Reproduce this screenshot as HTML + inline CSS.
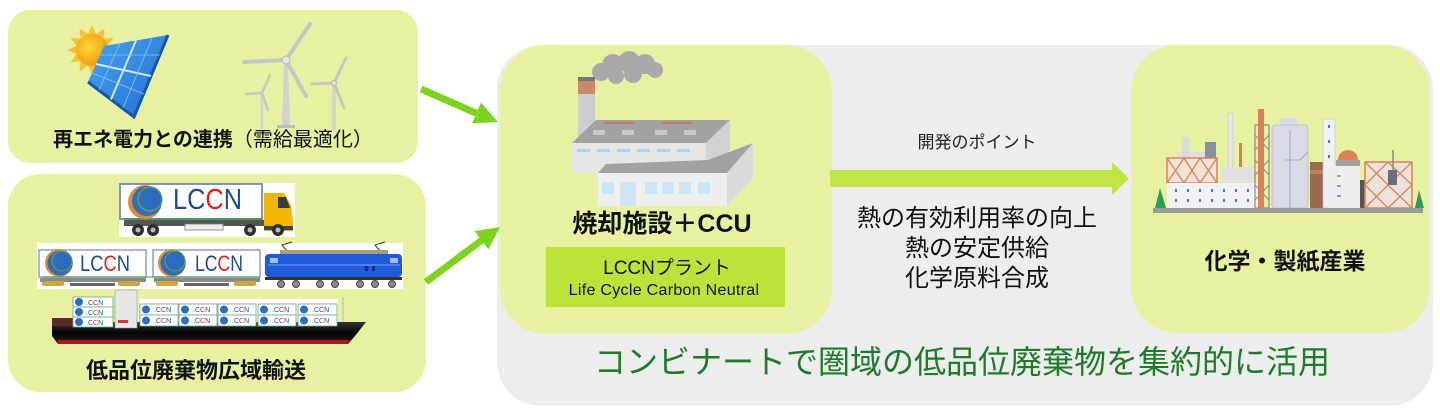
<!DOCTYPE html>
<html><head><meta charset="utf-8">
<style>
html,body{margin:0;padding:0;background:#fff;}
body{width:1440px;height:416px;overflow:hidden;position:relative;}
svg{position:absolute;left:0;top:0;}
text{font-family:"Liberation Sans","Noto Sans CJK JP",sans-serif;}
</style></head>
<body>
<svg width="1440" height="416" viewBox="0 0 1440 416" xmlns="http://www.w3.org/2000/svg">
<defs>
<radialGradient id="sunG" cx="0.4" cy="0.4" r="0.6"><stop offset="0" stop-color="#fdd835"/><stop offset="1" stop-color="#f39c12"/></radialGradient>
<linearGradient id="panelG" x1="0" y1="0" x2="1" y2="1"><stop offset="0" stop-color="#4aa3f0"/><stop offset="1" stop-color="#1f6fd0"/></linearGradient>
<linearGradient id="hullG" x1="0" y1="0" x2="0" y2="1"><stop offset="0" stop-color="#333"/><stop offset="0.5" stop-color="#050505"/><stop offset="1" stop-color="#222"/></linearGradient>
</defs>

<!-- backgrounds -->
<rect x="8" y="10" width="410" height="153" rx="22" fill="#e8f1a1"/>
<rect x="8" y="174" width="418" height="218" rx="32" fill="#e8f1a1"/>
<rect x="497" y="45" width="936" height="361" rx="44" fill="#ededed"/>
<rect x="500" y="45" width="332" height="289" rx="46" fill="#e8f1a1"/>
<rect x="1131" y="45" width="299" height="288" rx="46" fill="#e8f1a1"/>
<rect x="546" y="247" width="239" height="60" fill="#bde33b"/>

<!-- arrows -->
<line x1="421" y1="89" x2="478" y2="114" stroke="#7ed321" stroke-width="7"/>
<polygon points="498,122 481,102.5 472,123.5" fill="#7ed321"/>
<line x1="426" y1="282" x2="482" y2="240" stroke="#7ed321" stroke-width="7"/>
<polygon points="500,227 488.5,249.5 474.5,231" fill="#7ed321"/>
<rect x="830" y="170" width="284" height="17" fill="#bfe443"/>
<polygon points="1112,162 1129,178.5 1112,195" fill="#bfe443"/>

<!-- solar + sun -->
<polygon points="117,50 107.5,54.1 113.7,62.5 103.3,61.3 104.5,71.7 96.1,65.5 92,75 87.9,65.5 79.5,71.7 80.7,61.3 70.3,62.5 76.5,54.1 67,50 76.5,45.9 70.3,37.5 80.7,38.7 79.5,28.3 87.9,34.5 92,25 96.1,34.5 104.5,28.3 103.3,38.7 113.7,37.5 107.5,45.9" fill="#f9c22e"/>
<circle cx="92" cy="50" r="16" fill="url(#sunG)"/>
<polygon points="104,46 168,35 134,117 88,82" fill="url(#panelG)"/>
<polyline points="168,35 134,117 88,82" fill="none" stroke="#1657a8" stroke-width="3"/>
<line x1="136" y1="40.5" x2="111" y2="99.5" stroke="#cfe8ff" stroke-width="2"/>
<line x1="96" y1="64" x2="151" y2="76" stroke="#cfe8ff" stroke-width="2"/>
<line x1="120" y1="43" x2="99" y2="90" stroke="#8cc3f5" stroke-width="0.8"/>
<line x1="152" y1="38" x2="123" y2="108" stroke="#8cc3f5" stroke-width="0.8"/>
<line x1="100" y1="55" x2="160" y2="55" stroke="#8cc3f5" stroke-width="0.8"/>
<line x1="92" y1="73" x2="144" y2="94" stroke="#8cc3f5" stroke-width="0.8"/>

<!-- wind turbines -->
<g stroke-linecap="round">
<polygon points="284,62 288,62 290,126 282,126" fill="#d2d2d2"/>
<rect x="277" y="125" width="18" height="3" fill="#bbb"/>
<line x1="286" y1="60" x2="310" y2="24" stroke="#c6c6c6" stroke-width="4"/>
<line x1="286" y1="60" x2="244" y2="62" stroke="#c6c6c6" stroke-width="4"/>
<line x1="286" y1="60" x2="306" y2="96" stroke="#c6c6c6" stroke-width="4"/>
<circle cx="286" cy="60" r="4" fill="#e4e4e4" stroke="#b5b5b5"/>
<line x1="262" y1="93" x2="262" y2="127" stroke="#d2d2d2" stroke-width="3"/>
<line x1="262" y1="93" x2="270" y2="75" stroke="#c6c6c6" stroke-width="2.5"/>
<line x1="262" y1="93" x2="246" y2="94" stroke="#c6c6c6" stroke-width="2.5"/>
<line x1="262" y1="93" x2="268" y2="110" stroke="#c6c6c6" stroke-width="2.5"/>
<line x1="334" y1="83" x2="334" y2="128" stroke="#d2d2d2" stroke-width="3.5"/>
<line x1="334" y1="83" x2="346" y2="58" stroke="#c6c6c6" stroke-width="3"/>
<line x1="334" y1="83" x2="312" y2="84" stroke="#c6c6c6" stroke-width="3"/>
<line x1="334" y1="83" x2="344" y2="108" stroke="#c6c6c6" stroke-width="3"/>
<circle cx="334" cy="83" r="2.5" fill="#e4e4e4" stroke="#b5b5b5"/>
</g>

<text x="213" y="146" font-size="20" text-anchor="middle" fill="#111"><tspan font-weight="bold">再エネ電力との連携</tspan><tspan>（需給最適化）</tspan></text>

<!-- truck -->
<rect x="119" y="183" width="176" height="54" fill="#fff"/>
<rect x="120" y="184" width="142" height="35" fill="#fff" stroke="#7f96c0" stroke-width="2"/>
<line x1="124" y1="219" x2="262" y2="219" stroke="#3a9a3a" stroke-width="1.5"/>
<circle cx="145" cy="202" r="17" fill="#e08a3a"/>
<circle cx="147" cy="201" r="15" fill="#2d6cc0"/>
<circle cx="150" cy="199" r="12" fill="none" stroke="#6aaa3a" stroke-width="1.2"/>
<text x="173" y="209" font-size="29" textLength="69" lengthAdjust="spacingAndGlyphs" fill="#1f4a96">LC<tspan fill="#e02020">C</tspan>N</text>
<rect x="124" y="220" width="150" height="6" fill="#555"/>
<rect x="185" y="224" width="38" height="6" fill="#eee" stroke="#777" stroke-width="0.8"/>
<polygon points="264,193 284,193 291,205 293,220 293,231 264,231" fill="#f2b705"/>
<polygon points="278,197 286,197 290,208 278,208" fill="#3a3a3a"/>
<rect x="264" y="226" width="29" height="4" fill="#444"/>
<g fill="#2e2e2e"><circle cx="138" cy="230" r="6"/><circle cx="153" cy="230" r="6"/><circle cx="250" cy="230" r="6"/><circle cx="278" cy="230" r="6"/></g>
<g fill="#bbb"><circle cx="138" cy="230" r="2.5"/><circle cx="153" cy="230" r="2.5"/><circle cx="250" cy="230" r="2.5"/><circle cx="278" cy="230" r="2.5"/></g>

<!-- train -->
<rect x="37" y="243" width="366" height="46" fill="#fff"/>
<rect x="39" y="250" width="107" height="27" fill="#fff" stroke="#8aa0c6" stroke-width="1.5"/>
<circle cx="59" cy="263" r="14" fill="#e08a3a"/>
<circle cx="60" cy="263" r="12.5" fill="#2d6cc0"/>
<circle cx="62" cy="261" r="10" fill="none" stroke="#6aaa3a" stroke-width="1"/>
<text x="80" y="271" font-size="22" textLength="50" lengthAdjust="spacingAndGlyphs" fill="#1f4a96">LC<tspan fill="#e02020">C</tspan>N</text>
<rect x="153" y="250" width="107" height="27" fill="#fff" stroke="#8aa0c6" stroke-width="1.5"/>
<circle cx="172" cy="263" r="14" fill="#e08a3a"/>
<circle cx="173" cy="263" r="12.5" fill="#2d6cc0"/>
<circle cx="175" cy="261" r="10" fill="none" stroke="#6aaa3a" stroke-width="1"/>
<text x="195" y="271" font-size="22" textLength="48" lengthAdjust="spacingAndGlyphs" fill="#1f4a96">LC<tspan fill="#e02020">C</tspan>N</text>
<line x1="42" y1="277" x2="260" y2="277" stroke="#3a9a3a" stroke-width="1"/>
<rect x="40" y="278" width="106" height="4" fill="#8a8a8a"/>
<rect x="154" y="278" width="106" height="4" fill="#8a8a8a"/>
<g fill="#c9a640"><rect x="42" y="281" width="22" height="5" rx="2"/><rect x="118" y="281" width="22" height="5" rx="2"/><rect x="156" y="281" width="22" height="5" rx="2"/><rect x="234" y="281" width="22" height="5" rx="2"/></g>
<rect x="70" y="283" width="45" height="3" fill="#666"/><rect x="184" y="283" width="45" height="3" fill="#666"/>
<polyline points="287,251 282,245 292,242" fill="none" stroke="#333" stroke-width="1"/>
<polyline points="380,251 375,245 385,242" fill="none" stroke="#333" stroke-width="1"/>
<rect x="280" y="250" width="108" height="5" fill="#a59e7a"/>
<rect x="265" y="254" width="137" height="23" rx="4" fill="#1f5ad8"/>
<line x1="268" y1="265" x2="400" y2="265" stroke="#5d8ef0" stroke-width="1.5"/>
<rect x="270" y="258" width="8" height="5" fill="#9cc4ff"/><rect x="390" y="258" width="8" height="5" fill="#9cc4ff"/>
<rect x="365" y="266" width="3" height="5" fill="#0b2a7a"/><rect x="372" y="266" width="3" height="5" fill="#0b2a7a"/>
<rect x="265" y="277" width="137" height="3" fill="#333"/>
<g fill="#888" stroke="#444" stroke-width="1"><circle cx="281" cy="284" r="3.5"/><circle cx="296" cy="284" r="3.5"/><circle cx="320" cy="284" r="3.5"/><circle cx="335" cy="284" r="3.5"/><circle cx="360" cy="284" r="3.5"/><circle cx="375" cy="284" r="3.5"/><circle cx="392" cy="284" r="3.5"/></g>

<!-- ship -->
<rect x="140" y="299" width="198" height="28" fill="#fff"/>
<polygon points="52,322 366,322 355,336 348,344 58,344 52,336" fill="url(#hullG)"/>
<polygon points="58,340 350,340 347,344 58,344" fill="#b01818"/>
<rect x="52" y="318" width="22" height="8" fill="#5a2a2a"/>
<rect x="115" y="290" width="22" height="38" fill="#e6e6e6" stroke="#999" stroke-width="0.6"/>
<rect x="118" y="320" width="10" height="3" fill="#d33"/>
<line x1="343" y1="297" x2="343" y2="322" stroke="#bbb" stroke-width="1"/>
<g font-size="7" fill="#1f4a96">
<rect x="73" y="297" width="40" height="10" fill="#fff" stroke="#6a8" stroke-width="0.8"/><circle cx="79" cy="302" r="4" fill="#2d6cc0"/><text x="86" y="305">.C<tspan fill="#e02020">C</tspan>N</text>
<rect x="73" y="307" width="40" height="10" fill="#fff" stroke="#6a8" stroke-width="0.8"/><circle cx="79" cy="312" r="4" fill="#2d6cc0"/><text x="86" y="315">.C<tspan fill="#e02020">C</tspan>N</text>
<rect x="73" y="317" width="40" height="10" fill="#fff" stroke="#6a8" stroke-width="0.8"/><circle cx="79" cy="322" r="4" fill="#2d6cc0"/><text x="86" y="325">.C<tspan fill="#e02020">C</tspan>N</text>
</g>
<g font-size="7" fill="#1f4a96">
<rect x="140" y="304" width="38" height="11" fill="#fff" stroke="#6a8" stroke-width="0.8"/><circle cx="146" cy="309.5" r="4" fill="#2d6cc0"/><text x="154" y="312">.C<tspan fill="#e02020">C</tspan>N</text>
<rect x="140" y="315" width="38" height="11" fill="#fff" stroke="#6a8" stroke-width="0.8"/><circle cx="146" cy="320.5" r="4" fill="#2d6cc0"/><text x="154" y="323">.C<tspan fill="#e02020">C</tspan>N</text>
<rect x="179" y="304" width="38" height="11" fill="#fff" stroke="#6a8" stroke-width="0.8"/><circle cx="185" cy="309.5" r="4" fill="#2d6cc0"/><text x="193" y="312">.C<tspan fill="#e02020">C</tspan>N</text>
<rect x="179" y="315" width="38" height="11" fill="#fff" stroke="#6a8" stroke-width="0.8"/><circle cx="185" cy="320.5" r="4" fill="#2d6cc0"/><text x="193" y="323">.C<tspan fill="#e02020">C</tspan>N</text>
<rect x="218" y="304" width="38" height="11" fill="#fff" stroke="#6a8" stroke-width="0.8"/><circle cx="224" cy="309.5" r="4" fill="#2d6cc0"/><text x="232" y="312">.C<tspan fill="#e02020">C</tspan>N</text>
<rect x="218" y="315" width="38" height="11" fill="#fff" stroke="#6a8" stroke-width="0.8"/><circle cx="224" cy="320.5" r="4" fill="#2d6cc0"/><text x="232" y="323">.C<tspan fill="#e02020">C</tspan>N</text>
<rect x="258" y="304" width="38" height="11" fill="#fff" stroke="#6a8" stroke-width="0.8"/><circle cx="264" cy="309.5" r="4" fill="#2d6cc0"/><text x="272" y="312">.C<tspan fill="#e02020">C</tspan>N</text>
<rect x="258" y="315" width="38" height="11" fill="#fff" stroke="#6a8" stroke-width="0.8"/><circle cx="264" cy="320.5" r="4" fill="#2d6cc0"/><text x="272" y="323">.C<tspan fill="#e02020">C</tspan>N</text>
<rect x="298" y="304" width="39" height="11" fill="#fff" stroke="#6a8" stroke-width="0.8"/><circle cx="304" cy="309.5" r="4" fill="#2d6cc0"/><text x="312" y="312">.C<tspan fill="#e02020">C</tspan>N</text>
<rect x="298" y="315" width="39" height="11" fill="#fff" stroke="#6a8" stroke-width="0.8"/><circle cx="304" cy="320.5" r="4" fill="#2d6cc0"/><text x="312" y="323">.C<tspan fill="#e02020">C</tspan>N</text>
</g>

<text x="86" y="378" font-size="22" font-weight="bold" fill="#111">低品位廃棄物広域輸送</text>

<!-- factory -->
<g fill="#a9a9a9">
<circle cx="601" cy="72" r="9"/><circle cx="613" cy="65" r="11"/><circle cx="629" cy="62" r="11"/><circle cx="645" cy="64" r="10"/><circle cx="655" cy="70" r="8"/><circle cx="633" cy="74" r="9"/><circle cx="616" cy="76" r="8"/>
</g>
<rect x="578" y="78" width="17" height="62" fill="#cfcfcf"/>
<rect x="578" y="80" width="17" height="14" fill="#c98a6b"/>
<rect x="578" y="77" width="17" height="4" fill="#777"/>
<polygon points="572,143 596,120 730,120 706,143" fill="#a2a2a2"/>
<rect x="604" y="122" width="30" height="2" fill="#c87a5a"/><rect x="662" y="122" width="30" height="2" fill="#c87a5a"/>
<g fill="#c8c8c8"><rect x="593" y="130" width="12" height="5"/><rect x="622" y="130" width="12" height="5"/><rect x="655" y="130" width="12" height="5"/><rect x="684" y="130" width="12" height="5"/></g>
<rect x="572" y="143" width="134" height="30" fill="#e6e6e6"/>
<g fill="#a9d4f0"><rect x="577" y="149" width="13" height="3"/><rect x="597" y="149" width="13" height="3"/><rect x="617" y="149" width="13" height="3"/><rect x="637" y="149" width="13" height="3"/><rect x="657" y="149" width="13" height="3"/><rect x="677" y="149" width="13" height="3"/></g>
<polygon points="706,143 730,120 730,150 706,173" fill="#d2d2d2"/>
<polygon points="598,173 606,164 708,160 753,143 727,173" fill="#a2a2a2"/>
<rect x="598" y="173" width="129" height="33" fill="#efefef"/>
<g fill="#cde6f7"><rect x="602" y="182" width="12" height="12"/><rect x="620" y="182" width="16" height="24"/><rect x="645" y="182" width="12" height="12"/><rect x="662" y="182" width="12" height="12"/><rect x="679" y="182" width="12" height="12"/><rect x="698" y="182" width="12" height="12"/></g>
<polygon points="727,173 753,143 753,178 727,206" fill="#dadada"/>

<text x="662" y="232" font-size="25" font-weight="bold" text-anchor="middle" fill="#111">焼却施設＋CCU</text>
<text x="667" y="274" font-size="19" text-anchor="middle" fill="#111">LCCNプラント</text>
<text x="664" y="295" font-size="16" letter-spacing="0.3" text-anchor="middle" fill="#111">Life Cycle Carbon Neutral</text>

<!-- middle text -->
<text x="977" y="148" font-size="17" text-anchor="middle" fill="#222">開発のポイント</text>
<text x="977" y="226" font-size="24" text-anchor="middle" fill="#111">熱の有効利用率の向上</text>
<text x="977" y="256" font-size="24" text-anchor="middle" fill="#111">熱の安定供給</text>
<text x="977" y="286" font-size="24" text-anchor="middle" fill="#111">化学原料合成</text>

<!-- industry -->
<g>
<rect x="1177" y="152" width="34" height="8" fill="#e0e0e0"/>
<rect x="1182" y="137" width="8" height="22" fill="#dcdcdc"/>
<rect x="1205" y="142" width="11" height="17" fill="#8a8fa0"/>
<rect x="1228" y="113" width="5" height="65" fill="#e6e6e6" stroke="#bbb" stroke-width="0.5"/>
<rect x="1239" y="143" width="3" height="37" fill="#d9825a"/>
<rect x="1222" y="167" width="32" height="17" fill="#e0e0e0"/>
<rect x="1167" y="158" width="50" height="25" fill="#efe3d6" stroke="#d9825a" stroke-width="1.5"/>
<path d="M1167,158 L1184,183 L1200,158 L1217,183 M1167,183 L1184,158 L1200,183 L1217,158" stroke="#d9825a" stroke-width="1.3" fill="none"/>
<rect x="1167" y="183" width="95" height="25" fill="#f2f2f2"/>
<g fill="#3d7fd6"><rect x="1175" y="189" width="2" height="3"/><rect x="1187" y="189" width="2" height="3"/><rect x="1199" y="189" width="2" height="3"/><rect x="1211" y="189" width="2" height="3"/><rect x="1223" y="189" width="2" height="3"/><rect x="1235" y="189" width="2" height="3"/><rect x="1247" y="189" width="2" height="3"/>
<rect x="1175" y="199" width="2" height="3"/><rect x="1187" y="199" width="2" height="3"/><rect x="1199" y="199" width="2" height="3"/><rect x="1211" y="199" width="2" height="3"/><rect x="1223" y="199" width="2" height="3"/><rect x="1235" y="199" width="2" height="3"/><rect x="1247" y="199" width="2" height="3"/></g>
<rect x="1255" y="125" width="14" height="83" fill="none" stroke="#8a8a8a" stroke-width="1.2"/>
<path d="M1255,135 L1269,150 M1269,135 L1255,150 M1255,160 L1269,175 M1269,160 L1255,175 M1255,185 L1269,200 M1269,185 L1255,200" stroke="#8a8a8a" stroke-width="1"/>
<rect x="1258" y="109" width="6" height="99" fill="#d9825a"/>
<rect x="1280" y="118" width="17" height="8" fill="#d8dbe6"/>
<rect x="1272" y="125" width="36" height="83" rx="3" fill="#d8dbe6" stroke="#b8bcc8" stroke-width="0.8"/>
<path d="M1290,130 L1290,208 M1285,160 L1300,160 L1308,152" stroke="#a8acb8" stroke-width="1" fill="none"/>
<rect x="1310" y="162" width="13" height="46" fill="#9a6a50"/>
<rect x="1310" y="170" width="13" height="4" fill="#c08060"/>
<rect x="1323" y="119" width="12" height="89" fill="#eef0f6" stroke="#c0c4d0" stroke-width="0.6"/>
<g fill="#3d7fd6"><rect x="1328" y="125" width="2" height="3"/><rect x="1328" y="140" width="2" height="3"/><rect x="1328" y="155" width="2" height="3"/></g>
<circle cx="1348" cy="160" r="10" fill="#d9825a"/>
<rect x="1336" y="160" width="24" height="6" fill="#a0a0a0"/>
<rect x="1330" y="166" width="30" height="42" fill="#eeeeee"/>
<g fill="#8aa0c0"><rect x="1337" y="175" width="4" height="2"/><rect x="1337" y="185" width="4" height="2"/><rect x="1337" y="195" width="4" height="2"/></g>
<rect x="1360" y="180" width="5" height="28" fill="#555"/>
<rect x="1365" y="162" width="47" height="46" fill="#ebe3da" stroke="#d9825a" stroke-width="1.5"/>
<path d="M1365,162 L1388,185 L1412,162 M1365,185 L1388,162 L1412,185 M1365,185 L1388,208 L1412,185 M1365,208 L1388,185 L1412,208" stroke="#d9825a" stroke-width="1.3" fill="none"/>
<rect x="1388" y="170" width="9" height="15" fill="#6a6e7a"/>
<line x1="1393" y1="150" x2="1393" y2="170" stroke="#8a8a8a" stroke-width="1.5"/>
<path d="M1155,208 L1160,188 L1166,208 Z" fill="#2f9a5a"/>
<path d="M1415,208 L1419,190 L1424,208 Z" fill="#2f9a5a"/>
<rect x="1153" y="208" width="270" height="5" fill="#9a9a9a"/>
</g>

<text x="1285" y="269" font-size="23" font-weight="bold" text-anchor="middle" fill="#111">化学・製紙産業</text>

<text x="962" y="373" font-size="32" text-anchor="middle" fill="#1d7b2b">コンビナートで圏域の低品位廃棄物を集約的に活用</text>
</svg>
</body></html>
